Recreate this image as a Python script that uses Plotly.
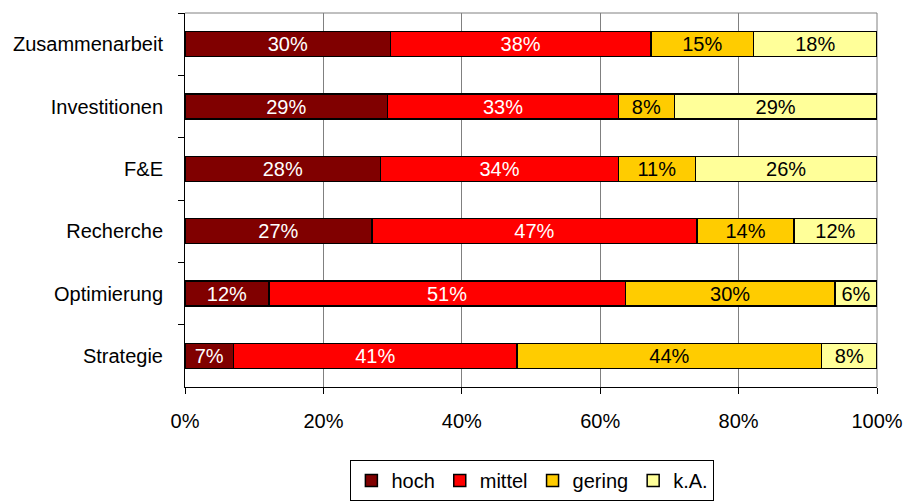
import plotly.graph_objects as go

# Survey results per area, listed top to bottom (values in percent)
categories = ["Zusammenarbeit", "Investitionen", "F&E", "Recherche", "Optimierung", "Strategie"]
hoch = [30, 29, 28, 27, 12, 7]
mittel = [38, 33, 34, 47, 51, 41]
gering = [15, 8, 11, 14, 30, 44]
ka = [18, 29, 26, 12, 6, 8]
series_names = ["hoch", "mittel", "gering", "k.A."]
x_ticks = [0, 20, 40, 60, 80, 100]
x_tick_labels = ["0%", "20%", "40%", "60%", "80%", "100%"]

FONT = "Liberation Sans, Arial, sans-serif"
colors = ["#800000", "#FF0000", "#FFCC00", "#FFFF99"]
text_colors = ["white", "white", "black", "black"]

fig = go.Figure()
for name, vals, col, tcol in zip(series_names, [hoch, mittel, gering, ka], colors, text_colors):
    fig.add_trace(go.Bar(
        name=name,
        y=categories,
        x=vals,
        orientation="h",
        marker=dict(color=col, line=dict(color="black", width=1.5)),
        text=[f"{v}%" for v in vals],
        texttemplate="%{text}",
        textposition="inside",
        insidetextanchor="middle",
        textangle=0,
        constraintext="none",
        textfont=dict(family=FONT, size=20, color=tcol),
        hoverinfo="skip",
    ))

fig.update_layout(
    barmode="stack",
    barnorm="percent",
    bargap=0.6,
    width=906,
    height=502,
    margin=dict(l=185, r=29, t=13, b=115, autoexpand=False),
    plot_bgcolor="white",
    paper_bgcolor="white",
    font=dict(family=FONT, size=20, color="black"),
    showlegend=True,
    legend=dict(
        orientation="h",
        x=0.502, xanchor="center",
        y=-0.25, yanchor="middle",
        bordercolor="black", borderwidth=1,
        font=dict(family=FONT, size=20, color="black"),
        itemwidth=30,
        traceorder="normal",
    ),
    xaxis=dict(
        range=[0, 100.0001],
        tickvals=x_ticks,
        ticktext=x_tick_labels,
        showgrid=True,
        gridcolor="#808080",
        gridwidth=1,
        showline=True,
        linecolor="black",
        linewidth=1,
        ticks="outside",
        ticklen=6,
        tickcolor="black",
        ticklabelstandoff=10,
        zeroline=False,
        automargin=False,
        fixedrange=True,
    ),
    yaxis=dict(
        type="category",
        autorange="reversed",
        tickson="boundaries",
        ticks="outside",
        ticklen=6,
        tickcolor="black",
        showline=True,
        linecolor="black",
        linewidth=1,
        showgrid=False,
        ticklabelstandoff=17,
        automargin=False,
        fixedrange=True,
    ),
    shapes=[
        dict(type="line", xref="paper", yref="paper", x0=0, x1=1, y0=1, y1=1,
             line=dict(color="#808080", width=1), layer="below"),
        dict(type="line", xref="paper", yref="paper", x0=1, x1=1, y0=0, y1=1,
             line=dict(color="#808080", width=1), layer="below"),
    ],
)

fig.write_html("out.html")
